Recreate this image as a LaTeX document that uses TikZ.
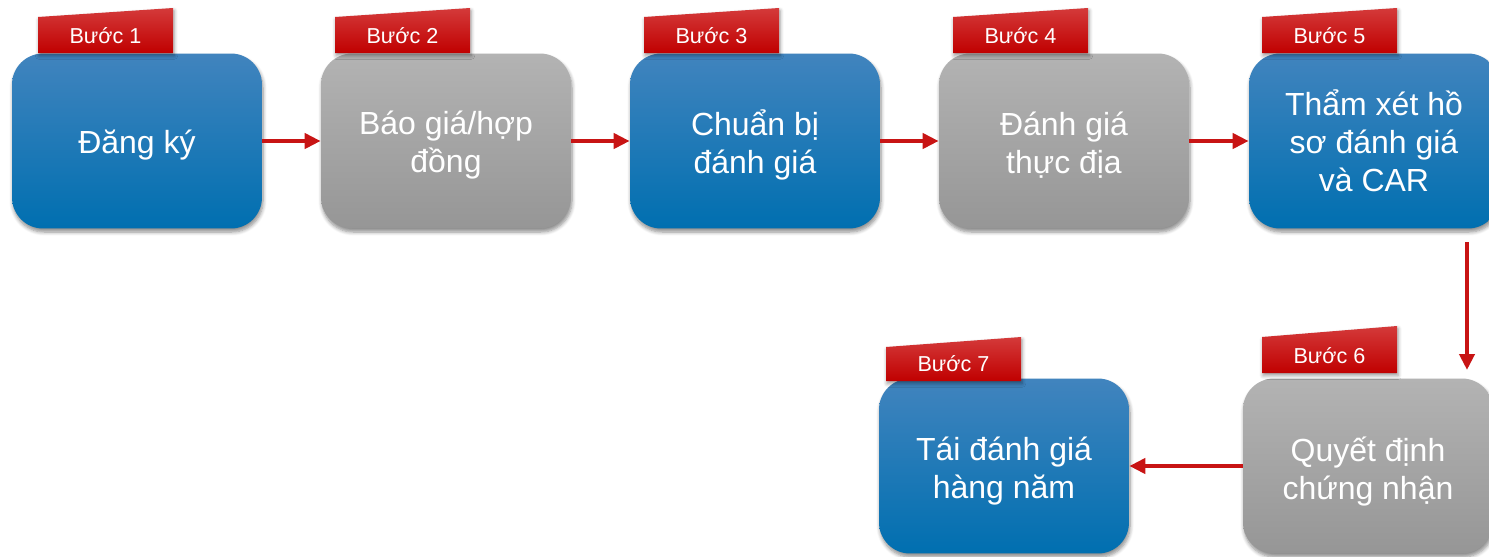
\documentclass[tikz,border=0pt]{standalone}
\usepackage{fontspec}
\setmainfont{Liberation Sans}
\usetikzlibrary{arrows.meta,shadows.blur}

\definecolor{bluetop}{HTML}{4184BE}
\definecolor{bluebot}{HTML}{006FB0}
\definecolor{graytop}{HTML}{B3B3B3}
\definecolor{graybot}{HTML}{969696}
\definecolor{tabtop}{HTML}{D43A3A}
\definecolor{tabbot}{HTML}{C00000}
\definecolor{flowred}{HTML}{C81414}

\tikzset{
  stepcard/.style={rectangle, rounded corners=0.62cm, minimum width=5cm,
    minimum height=3.5cm,
    blur shadow={shadow xshift=0.6pt, shadow yshift=-2pt, shadow blur steps=6, shadow opacity=45}},
  bluecard/.style={stepcard, shading=axis, top color=bluetop, bottom color=bluebot},
  graycard/.style={stepcard, shading=axis, top color=graytop, bottom color=graybot},
  cardtext/.style={align=center, text=white, inner sep=0pt,
    font=\fontsize{18.2pt}{21.6pt}\selectfont},
  tabshape/.style={shading=axis, top color=tabtop, bottom color=tabbot,
    blur shadow={shadow xshift=0.6pt, shadow yshift=-1.5pt, shadow blur steps=5, shadow opacity=40}},
  tablabel/.style={text=white, font=\fontsize{12.3pt}{14pt}\selectfont, inner sep=0pt},
  flow/.style={draw=flowred, line width=2.3pt,
    -{Triangle[length=0.32cm, width=0.3cm]}},
}

% step tab: lower-left x, bottom y, top-left y, top-right y, name, label
\newcommand{\steptab}[6]{%
  \path[tabshape] (#1,#2) -- (#1,#3) -- (#1+135,#4) -- (#1+135,#2) -- cycle;
  \node[tablabel] (#5) at (#1+67.5,#2-17) {#6};
}

\begin{document}
\begin{tikzpicture}[x=0.02cm, y=-0.02cm]
\useasboundingbox (0,0) rectangle (1489,556);
\clip (0,0) rectangle (1489,556);

% cards
\node[bluecard] (s1) at (137,141)  {};
\node[graycard] (s2) at (446,141)  {};
\node[bluecard] (s3) at (755,141)  {};
\node[graycard] (s4) at (1064,141) {};
\node[bluecard] (s5) at (1374,141) {};
\node[graycard] (s6) at (1368,466) {};
\node[bluecard] (s7) at (1004,466) {};

% card texts
\node[cardtext] (s1txt) at ([yshift=-4*0.02cm]s1.center) {Đăng ký};
\node[cardtext] (s2txt) at ([yshift=-4*0.02cm]s2.center) {Báo giá/hợp\\đồng};
\node[cardtext] (s3txt) at ([yshift=-4*0.02cm]s3.center) {Chuẩn bị\\đánh giá};
\node[cardtext] (s4txt) at ([yshift=-4*0.02cm]s4.center) {Đánh giá\\thực địa};
\node[cardtext] (s5txt) at (s5.center) {Thẩm xét hồ\\sơ đánh giá\\và CAR};
\node[cardtext] (s6txt) at ([yshift=-5.5*0.02cm]s6.center) {Quyết định\\chứng nhận};
\node[cardtext] (s7txt) at ([yshift=-5.5*0.02cm]s7.center) {Tái đánh giá\\hàng năm};

% step tabs
\steptab{38}{53}{17}{8}{t1}{Bước 1}
\steptab{335}{53}{17}{8}{t2}{Bước 2}
\steptab{644}{53}{17}{8}{t3}{Bước 3}
\steptab{953}{53}{17}{8}{t4}{Bước 4}
\steptab{1262}{53}{17}{8}{t5}{Bước 5}
\steptab{1262}{373}{337}{326}{t6}{Bước 6}
\steptab{886}{381}{347}{337}{t7}{Bước 7}

% connectors
\coordinate (d0) at (1467,242);
\coordinate (d1) at (1467,370);
\draw[flow] (s1.east) -- (s2.west);
\draw[flow] (s2.east) -- (s3.west);
\draw[flow] (s3.east) -- (s4.west);
\draw[flow] (s4.east) -- (s5.west);
\draw[flow] (d0) -- (d1);
\draw[flow] (s6.west) -- (s7.east);
\end{tikzpicture}
\end{document}
